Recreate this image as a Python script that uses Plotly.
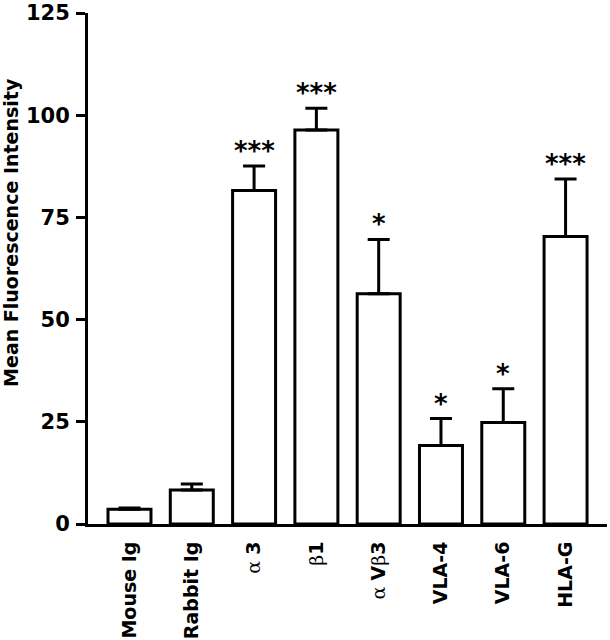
import plotly.graph_objects as go

categories = ["Mouse Ig", "Rabbit Ig", "α 3", "β1", "α Vβ3", "VLA-4", "VLA-6", "HLA-G"]
G = "<span style='font-family:DejaVu Serif'>{}</span>"
tick_labels = ["<b>Mouse Ig</b>", "<b>Rabbit Ig</b>", G.format("α") + " <b>3</b>",
               G.format("β") + "<b>1</b>", G.format("α") + " <b>V</b>" + G.format("β") + "<b>3</b>",
               "<b>VLA-4</b>", "<b>VLA-6</b>", "<b>HLA-G</b>"]
means = [3.6, 8.3, 81.6, 96.4, 56.3, 19.2, 24.8, 70.3]
sem = [0.3, 1.5, 6.0, 5.3, 13.3, 6.6, 8.3, 14.1]
stars = ["", "", "***", "***", "*", "*", "*", "***"]
y_ticks = [0, 25, 50, 75, 100, 125]

x = list(range(len(categories)))

fig = go.Figure()
fig.add_trace(go.Bar(
    x=x, y=means, width=0.69,
    marker=dict(color="white", line=dict(color="black", width=3)),
    error_y=dict(type="data", symmetric=False, array=sem, arrayminus=[0]*len(sem),
                 color="black", thickness=3, width=11),
    showlegend=False,
))

for xi, m, s, st in zip(x, means, sem, stars):
    if st:
        fig.add_annotation(x=xi, y=m + s, xref="x", yref="y", text=st, showarrow=False,
                           yanchor="middle", yshift=15,
                           font=dict(family="DejaVu Sans", size=26, color="black", weight="bold"))

fig.add_annotation(x=-0.148, y=0.57, xref="paper", yref="paper", text="Mean Fluorescence Intensity",
                   textangle=-90, showarrow=False, xanchor="center", yanchor="middle",
                   font=dict(family="DejaVu Sans", size=19, color="black", weight="bold"))

fig.update_layout(
    width=610, height=640,
    margin=dict(l=88, r=3, t=13, b=116),
    paper_bgcolor="white", plot_bgcolor="white",
    xaxis=dict(range=[-0.666, 7.665], tickvals=x, ticktext=tick_labels, tickangle=-90,
               showline=True, linecolor="black", linewidth=3, ticks="", showgrid=False,
               zeroline=False, ticklabelstandoff=7, automargin=False,
               tickfont=dict(family="DejaVu Sans", size=19, color="black")),
    yaxis=dict(range=[0, 125], tickvals=y_ticks, showline=True, linecolor="black", linewidth=3,
               ticks="outside", ticklen=9, tickwidth=3, tickcolor="black", showgrid=False,
               zeroline=False, ticklabeloverflow="allow", automargin=False, ticklabelstandoff=2,
               tickfont=dict(family="DejaVu Sans", size=21, color="black", weight="bold")),
)

fig.write_html("out.html", config={"displayModeBar": False},
               post_script="document.body.style.margin='0';")
